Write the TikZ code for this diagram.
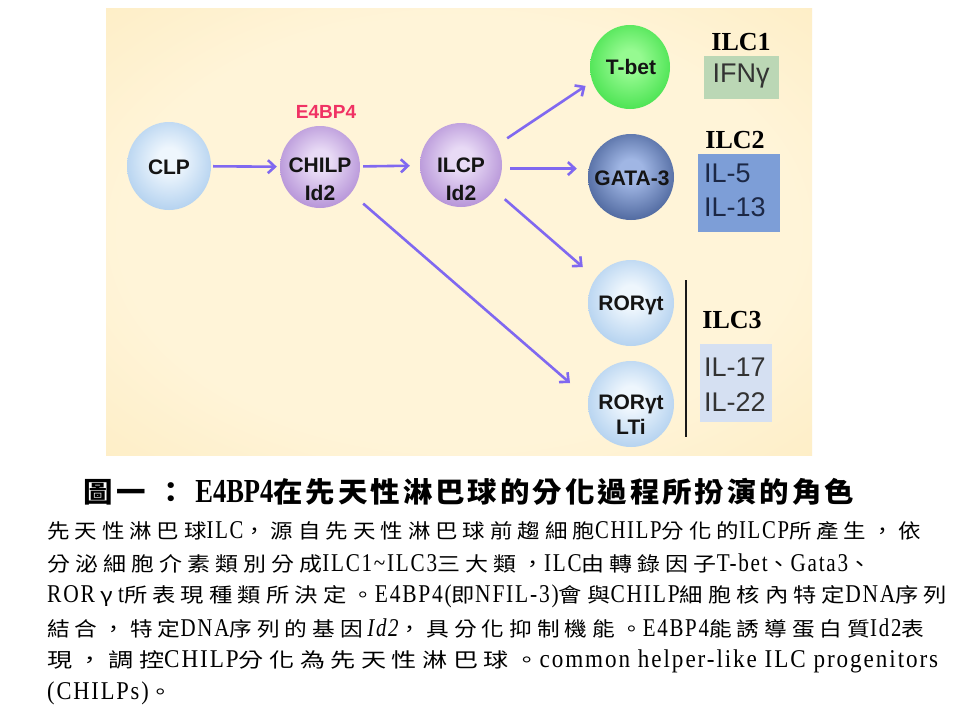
\documentclass[tikz,border=0pt]{standalone}
\usepackage{fontspec}
\usepackage{graphicx}
\usetikzlibrary{shapes.geometric,arrows.meta}
\newfontfamily\cjkfont{Noto Sans CJK TC}[LetterSpace=22]
\newfontfamily\cjktitle{Noto Sans CJK TC}[LetterSpace=10]
\newfontfamily\latfont{Liberation Serif}[Scale=1.28,FakeStretch=0.72,LetterSpace=6]
\newfontfamily\latbfont{Liberation Serif Bold}[Scale=1.2,FakeStretch=0.75]
\newfontfamily\sansfont{Liberation Sans}
\newfontfamily\serfont{Liberation Serif}
\newcommand\latn[1]{{\latfont #1}}
\definecolor{bgin}{RGB}{255,244,216}
\definecolor{bgmid}{RGB}{252,231,178}
\definecolor{bgout}{RGB}{247,208,122}
\definecolor{arrowc}{RGB}{128,104,240}
\definecolor{lbin}{RGB}{238,246,253}
\definecolor{lbout}{RGB}{140,185,230}
\definecolor{puin}{RGB}{232,218,245}
\definecolor{puout}{RGB}{148,100,196}
\definecolor{grin}{RGB}{150,250,145}
\definecolor{grout}{RGB}{25,212,40}
\definecolor{bdin}{RGB}{160,182,228}
\definecolor{bdout}{RGB}{25,52,112}
\definecolor{boxone}{RGB}{187,215,181}
\definecolor{boxtwo}{RGB}{125,158,215}
\definecolor{boxthree}{RGB}{213,224,242}
\definecolor{e4col}{RGB}{240,50,100}
\pgfdeclareradialshading{bgshade}{\pgfpoint{0bp}{0bp}}{color(0bp)=(bgin); color(24bp)=(bgin); color(50bp)=(bgmid); color(71bp)=(bgout)}
\colorlet{sphin}{white}\colorlet{sphout}{gray}
\pgfdeclareradialshading[sphin,sphout]{sphere}{\pgfpoint{0bp}{4bp}}{color(0bp)=(sphin); color(7bp)=(sphin); color(26bp)=(sphin!45!sphout); color(42bp)=(sphout); color(54bp)=(sphout!82!black)}
\begin{document}
\begin{tikzpicture}[x=1pt,y=-1pt,
  sph/.style 2 args={ellipse, inner sep=0pt, shade, shading=sphere,
     /utils/exec={\colorlet{sphin}{#1}\colorlet{sphout}{#2}}},
  lbl/.style={inner sep=0pt, text=black!92, font=\sansfont\bfseries\fontsize{21pt}{21pt}\selectfont},
  ilc/.style={inner sep=0pt, text=black, font=\serfont\bfseries\fontsize{26pt}{26pt}\selectfont},
  cyt/.style={inner sep=0pt, font=\sansfont\fontsize{27pt}{27pt}\selectfont},
  arr/.style={draw=arrowc, line width=2.6pt, -{Straight Barb[length=7pt,width=13pt]}},
  body/.style={inner sep=0pt, anchor=west, font=\cjkfont\fontsize{20pt}{24pt}\selectfont},
  ttl/.style={inner sep=0pt, font=\cjktitle\bfseries\fontsize{28pt}{32pt}\selectfont}]
\useasboundingbox[fill=white] (0,0) rectangle (960,720);
\shade[shading=bgshade] (106,8) rectangle (812,455);

% spheres
\node[sph={lbin}{lbout}, minimum width=84pt, minimum height=88pt] (clp) at (169,166) {};
\node[sph={puin}{puout}, minimum width=80pt, minimum height=82pt] (chilp) at (320,167) {};
\node[sph={puin}{puout}, minimum width=82pt, minimum height=84pt] (ilcp) at (461,165) {};
\node[sph={grin}{grout}, minimum width=80pt, minimum height=84pt] (tbet) at (630,67) {};
\node[sph={bdin}{bdout}, minimum width=86pt, minimum height=86pt] (gata) at (631,177) {};
\node[sph={lbin}{lbout}, minimum width=86pt, minimum height=86pt] (ror) at (631,303) {};
\node[sph={lbin}{lbout}, minimum width=86pt, minimum height=86pt] (lti) at (631,404) {};

% sphere labels
\node[lbl] (clpt) at (169,167) {CLP};
\node[lbl] (chilpt) at (320,165) {CHILP};
\node[lbl] (chilpid) at (320,193) {Id2};
\node[lbl] (ilcpt) at (461,165) {ILCP};
\node[lbl] (ilcpid) at (461,193) {Id2};
\node[lbl] (tbett) at (631,67) {T-bet};
\node[lbl] (gatat) at (632,178) {GATA-3};
\node[lbl] (rort) at (631,305) {ROR\char"03B3 t};
\node[lbl] (ltit1) at (631,404) {ROR\char"03B3 t};
\node[lbl] (ltit2) at (631,427) {LTi};
\node[inner sep=0pt, text=e4col, font=\sansfont\bfseries\fontsize{19pt}{19pt}\selectfont] (e4) at (326,112) {E4BP4};

% arrows
\draw[arr, shorten <=2pt, shorten >=3pt] (clp) -- (chilp);
\draw[arr, shorten <=3pt, shorten >=10pt] (chilp) -- (ilcp);
\draw[arr, shorten <=12pt, shorten >=8pt] (ilcp.29) -- (tbet.201);
\draw[arr, shorten <=8pt, shorten >=11pt] (ilcp.-5) -- (ilcp.-5 -| gata.west);
\draw[arr, shorten <=14pt, shorten >=17pt] (ilcp.-37) -- (ror.145);
\draw[arr, shorten <=16pt, shorten >=24pt] (chilp.-40) -- (lti.173);

% ILC groups
\node[ilc] (ilc1) at (741,42) {ILC1};
\node[fill=boxone, minimum width=75pt, minimum height=43pt, inner sep=0pt] (box1) at (741.5,77.5) {};
\node[cyt, text=black!80] (ifn) at (741,76) {IFN\char"03B3};
\node[ilc] (ilc2) at (735,140) {ILC2};
\node[fill=boxtwo, minimum width=82pt, minimum height=78pt, inner sep=0pt] (box2) at (739,193) {};
\node[cyt, anchor=west, text={rgb,255:red,28;green,40;blue,70}] (il5) at (704,173) {IL-5};
\node[cyt, anchor=west, text={rgb,255:red,28;green,40;blue,70}] (il13) at (704,207) {IL-13};
\node[ilc] (ilc3) at (732,320) {ILC3};
\node[fill=boxthree, minimum width=72pt, minimum height=78pt, inner sep=0pt] (box3) at (736,383) {};
\node[cyt, anchor=west, text=black!80] (il17) at (704,367) {IL-17};
\node[cyt, anchor=west, text=black!80] (il22) at (704,402) {IL-22};
\coordinate (bartop) at (686,280);
\coordinate (barbot) at (686,437);
\draw[line width=2.5pt, black!90] (bartop) -- (barbot);

% caption
\node[ttl] (title) at (469,492) {\resizebox{770pt}{\height}{圖一\hspace{10pt}：\hspace{9pt}{\latbfont E4BP4}在先天性淋巴球的分化過程所扮演的角色}};
\node[body] (l1) at (47,531) {\resizebox{874pt}{\height}{先天性淋巴球\latn{ILC}，源自先天性淋巴球前趨細胞\latn{CHILP}分化的\latn{ILCP}所產生，依}};
\node[body] (l2) at (47,563.5) {\resizebox{824pt}{\height}{分泌細胞介素類別分成\latn{ILC1\textasciitilde ILC3}三大類，\latn{ILC}由轉錄因子\latn{T-bet}、\latn{Gata3}、}};
\node[body] (l3) at (47,596) {\resizebox{900pt}{\height}{\latn{ROR}\hspace{5pt}γ\hspace{4pt}\latn{t}所表現種類所決定。\latn{E4BP4(}即\latn{NFIL-3)}會與\latn{CHILP}細胞核內特定\latn{DNA}序列}};
\node[body] (l4) at (47,628.5) {\resizebox{877pt}{\height}{結合，特定\latn{DNA}序列的基因\hspace{4pt}\latn{\itshape Id2}，具分化抑制機能。\latn{E4BP4}能誘導蛋白質\latn{Id2}表}};
\node[body] (l5) at (47,661) {\resizebox{891pt}{\height}{現，調控\latn{CHILP}分化為先天性淋巴球。\latn{common helper-like ILC progenitors}}};
\node[body] (l6) at (47,693) {\resizebox{126pt}{\height}{\latn{(CHILPs)}。}};
\end{tikzpicture}
\end{document}
